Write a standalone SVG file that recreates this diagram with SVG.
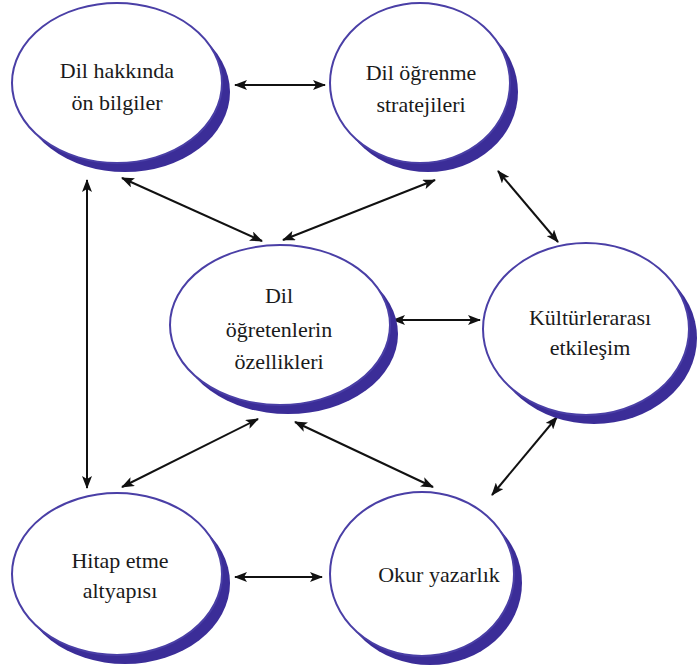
<svg xmlns="http://www.w3.org/2000/svg" width="698" height="672" viewBox="0 0 698 672">
  <defs>
    <marker id="head" viewBox="0 0 13 10" refX="12" refY="5" markerWidth="13" markerHeight="10" markerUnits="userSpaceOnUse" orient="auto-start-reverse">
      <path d="M0,0 L13,5 L0,10 L3,5 z" fill="#111"/>
    </marker>
  </defs>
  <style>
    .shade { fill: #3b2d98; }
    .face { fill: #ffffff; stroke: #4a3fa6; stroke-width: 2; }
    text { font-family: Liberation Serif, Tinos, Times New Roman, Noto Serif, DejaVu Serif, Times, serif; font-size: 22px; fill: #1a1a1a; text-anchor: middle; }
    .link { stroke: #111; stroke-width: 2; fill: none; marker-start: url(#head); marker-end: url(#head); }
  </style>
  <rect width="698" height="672" fill="#ffffff"/>

  <!-- connectors -->
  <g id="connectors">
    <line class="link" x1="235" y1="85" x2="325" y2="85"/>
    <line class="link" x1="122" y1="178" x2="262" y2="241"/>
    <line class="link" x1="435" y1="180" x2="283" y2="240"/>
    <line class="link" x1="498" y1="171" x2="558" y2="242"/>
    <line class="link" x1="87" y1="180" x2="87" y2="488"/>
    <line class="link" x1="393" y1="320" x2="480" y2="320"/>
    <line class="link" x1="258" y1="419" x2="122" y2="487"/>
    <line class="link" x1="295" y1="422" x2="433" y2="487"/>
    <line class="link" x1="557" y1="417" x2="492" y2="495"/>
    <line class="link" x1="235" y1="577" x2="322" y2="577"/>
  </g>

  <!-- nodes: white ellipse over an offset shaded ellipse -->
  <g id="node-dil-hakkinda">
    <ellipse class="shade" cx="125" cy="92" rx="105" ry="80"/>
    <ellipse class="face" cx="117" cy="83" rx="105" ry="80"/>
    <text x="117" y="78">Dil hakkında</text>
    <text x="117" y="110">ön bilgiler</text>
  </g>

  <g id="node-dil-ogrenme">
    <ellipse class="shade" cx="428" cy="92" rx="90" ry="80"/>
    <ellipse class="face" cx="420" cy="83" rx="90" ry="80"/>
    <text x="421" y="80">Dil öğrenme</text>
    <text x="421" y="112">stratejileri</text>
  </g>

  <g id="node-ogretenler">
    <ellipse class="shade" cx="288" cy="334" rx="110" ry="80"/>
    <ellipse class="face" cx="280" cy="325" rx="110" ry="80"/>
    <text x="279" y="303">Dil</text>
    <text x="279" y="337">öğretenlerin</text>
    <text x="279" y="369">özellikleri</text>
  </g>

  <g id="node-kulturlerarasi">
    <ellipse class="shade" cx="594" cy="338" rx="103" ry="86"/>
    <ellipse class="face" cx="586" cy="329" rx="103" ry="86"/>
    <text x="590" y="325">Kültürlerarası</text>
    <text x="590" y="355">etkileşim</text>
  </g>

  <g id="node-hitap">
    <ellipse class="shade" cx="125" cy="583" rx="105" ry="81"/>
    <ellipse class="face" cx="117" cy="574" rx="105" ry="81"/>
    <text x="120" y="568">Hitap etme</text>
    <text x="120" y="598">altyapısı</text>
  </g>

  <g id="node-okur-yazarlik">
    <ellipse class="shade" cx="430" cy="583" rx="92" ry="82"/>
    <ellipse class="face" cx="422" cy="574" rx="92" ry="82"/>
    <text x="439" y="582">Okur yazarlık</text>
  </g>
</svg>
